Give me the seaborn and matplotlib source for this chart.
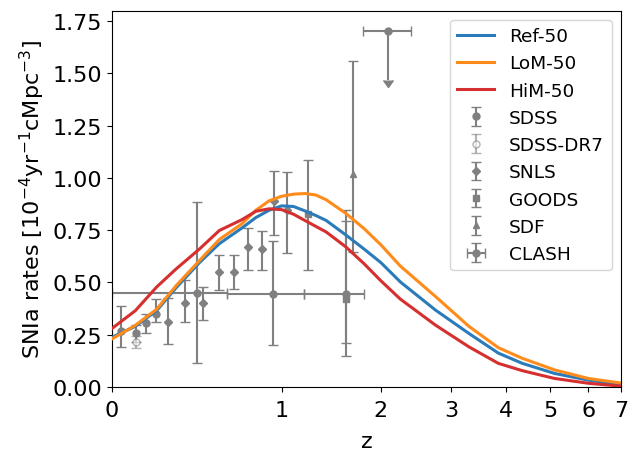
import numpy as np
import pandas as pd
import matplotlib
matplotlib.use('Agg')
import matplotlib.pyplot as plt
from matplotlib.lines import Line2D
import seaborn as sns

# model curves
z_grid = [0, 0.1, 0.2, 0.3, 0.43, 0.55, 0.7, 0.8, 0.9, 1.0, 1.1, 1.2, 1.3, 1.4,
          1.6, 1.8, 2.0, 2.25, 2.75, 3.3, 3.85, 4.35, 5.1, 6.0, 7.0]
ref50 = [0.238, 0.29, 0.365, 0.475, 0.595, 0.685, 0.76, 0.81, 0.845, 0.866, 0.863, 0.842, 0.82, 0.796,
         0.727, 0.66, 0.595, 0.502, 0.368, 0.256, 0.162, 0.113, 0.065, 0.033, 0.01]
lom50 = [0.23, 0.295, 0.372, 0.485, 0.605, 0.705, 0.78, 0.845, 0.89, 0.912, 0.922, 0.925, 0.918, 0.895,
         0.83, 0.758, 0.68, 0.578, 0.433, 0.29, 0.188, 0.137, 0.082, 0.041, 0.019]
him50 = [0.28, 0.365, 0.478, 0.565, 0.66, 0.748, 0.8, 0.84, 0.852, 0.848, 0.826, 0.796, 0.768, 0.741,
         0.67, 0.59, 0.508, 0.42, 0.296, 0.192, 0.113, 0.078, 0.041, 0.018, 0.004]

# observations
sdss_z = [0.036, 0.104, 0.147, 0.198]
sdss_r = [0.27, 0.256, 0.304, 0.347]
sdss_lo = [0.08, 0.04, 0.045, 0.036]
sdss_hi = [0.115, 0.04, 0.045, 0.076]

dr7_z = [0.104]
dr7_r = [0.216]
dr7_lo = [0.03]
dr7_hi = [0.03]

snls_z = [0.256, 0.348, 0.449, 0.549, 0.644, 0.743, 0.848, 0.938, 1.047]
snls_r = [0.311, 0.402, 0.402, 0.55, 0.55, 0.669, 0.658, 0.888, 0.847]
snls_lo = [0.103, 0.09, 0.08, 0.087, 0.08, 0.11, 0.10, 0.163, 0.207]
snls_hi = [0.113, 0.11, 0.076, 0.079, 0.08, 0.09, 0.09, 0.147, 0.18]

goods_z = [1.227, 1.597]
goods_r = [0.828, 0.423]
goods_lo = [0.27, 0.275]
goods_hi = [0.257, 0.37]

sdf_z = [1.675]
sdf_r = [1.02]
sdf_lo = [0.375]
sdf_hi = [0.54]

clash_z = [0.416, 0.93, 1.597, 2.094]
clash_r = [0.45, 0.443, 0.443, 1.70]
clash_lo = [0.337, 0.243, 0.233, 0.23]
clash_hi = [0.434, 0.255, 0.404, 0.0]
clash_zmin = [0.0, 0.603, 1.191, 1.79]
clash_zmax = [0.603, 1.191, 1.806, 2.394]
clash_uplim = [False, False, False, True]

xticks = [0, 1, 2, 3, 4, 5, 6, 7]

models = ['Ref-50', 'LoM-50', 'HiM-50']
colors = {'Ref-50': '#2b7bba', 'LoM-50': '#ff8c1a', 'HiM-50': '#d62f2f'}

df = pd.DataFrame({
    'z': z_grid * 3,
    'rate': ref50 + lom50 + him50,
    'model': np.repeat(models, len(z_grid)),
})

fig = plt.figure(figsize=(6.42, 4.60), dpi=100)
ax = fig.add_axes([0.1745, 0.1565, 0.7925, 0.8185])
ax.set_xscale('function', functions=(lambda z: np.log10(1 + z), lambda x: 10 ** x - 1))

sns.lineplot(data=df, x='z', y='rate', hue='model', palette=colors, hue_order=models,
             lw=2.2, legend=False, ax=ax, zorder=3)

eb = dict(color='gray', ecolor='gray', capsize=3.5, elinewidth=1.5, ms=5, ls='none', zorder=2)
h_sdss = ax.errorbar(sdss_z, sdss_r, yerr=[sdss_lo, sdss_hi], fmt='o', label='SDSS', **eb)
h_dr7 = ax.errorbar(dr7_z, dr7_r, yerr=[dr7_lo, dr7_hi], fmt='o', mfc='white', label='SDSS-DR7',
                    alpha=0.6, **eb)
h_snls = ax.errorbar(snls_z, snls_r, yerr=[snls_lo, snls_hi], fmt='D', label='SNLS',
                     **{**eb, 'ms': 4.5})
h_goods = ax.errorbar(goods_z, goods_r, yerr=[goods_lo, goods_hi], fmt='s', label='GOODS', **eb)
h_sdf = ax.errorbar(sdf_z, sdf_r, yerr=[sdf_lo, sdf_hi], fmt='^', label='SDF', **eb)
cz = np.array(clash_z)
h_clash = ax.errorbar(clash_z, clash_r, yerr=[clash_lo, clash_hi],
                      xerr=[cz - np.array(clash_zmin), np.array(clash_zmax) - cz],
                      uplims=clash_uplim, fmt='o', label='CLASH', **eb)

ax.set_xlim(0, 7)
ax.set_ylim(0, 1.8)
ax.set_xticks(xticks)
ax.set_xticklabels([str(t) for t in xticks])
ax.set_yticks(np.arange(0, 1.76, 0.25))
ax.set_yticklabels(['%.2f' % v for v in np.arange(0, 1.76, 0.25)])
ax.xaxis.set_minor_locator(matplotlib.ticker.NullLocator())
ax.tick_params(labelsize=16)
ax.tick_params(axis='x', pad=6)
ax.set_xlabel('z', fontsize=16, labelpad=8)
ax.set_ylabel('SNIa rates [$10^{-4}$yr$^{-1}$cMpc$^{-3}$]', fontsize=16)

line_handles = [Line2D([], [], color=colors[m], lw=2.2) for m in models]
handles = line_handles + [h_sdss, h_dr7, h_snls, h_goods, h_sdf, h_clash]
labels = models + ['SDSS', 'SDSS-DR7', 'SNLS', 'GOODS', 'SDF', 'CLASH']
ax.legend(handles, labels, loc='upper right', fontsize=13.3)

fig.savefig('out.png', dpi=100)
